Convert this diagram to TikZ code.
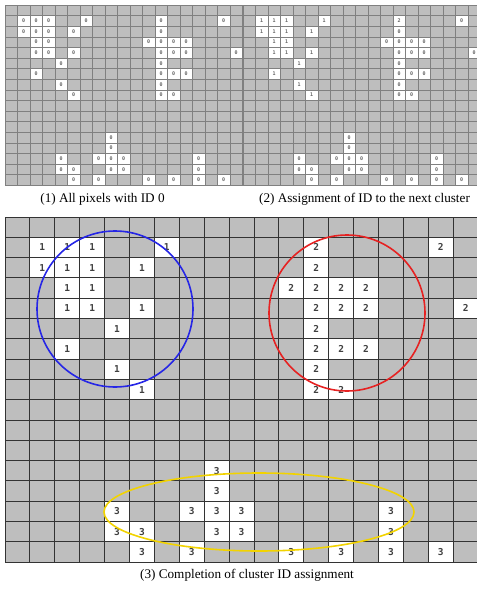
\documentclass[tikz,border=0pt]{standalone}
\usepackage{fontspec}
\setmainfont{Liberation Serif}
\newfontfamily\digitfont{DejaVu Sans Mono}
\definecolor{cellgray}{HTML}{BEBEBE}
\definecolor{ringblue}{HTML}{2626E6}
\definecolor{ringred}{HTML}{E62222}
\definecolor{ringyellow}{HTML}{F2D300}
\tikzset{
  gridS/.style={draw=black!50, line width=0.6pt},
  gridB/.style={draw=black!80, line width=1pt},
  cellS/.style={fill=white, inner sep=0pt, minimum width=12.5pt, minimum height=10.6pt,
    font=\digitfont\bfseries\fontsize{5}{5}\selectfont, text=black!60},
  cellB/.style={fill=white, inner sep=0pt, minimum width=24.9pt, minimum height=20.3pt,
    font=\digitfont\bfseries\fontsize{9.5}{9.5}\selectfont, text=black!75},
  captext/.style={font=\fontsize{13.2}{14}\selectfont, inner sep=0pt},
  ring/.style={line width=1.6pt},
}
\def\ListOne{2/2,2/3,2/4,2/7,3/2,3/3,3/4,3/6,4/3,4/4,5/3,5/4,5/6,6/5,7/3,8/5,9/6}
\def\ListTwoA{2/13}
\def\ListTwoB{3/13,4/12,4/13,4/14,4/15,5/13,5/14,5/15,6/13,7/13,7/14,7/15,8/13,9/13,9/14,2/18,5/19}
\def\ListThree{13/9,14/9,15/5,15/8,15/9,15/10,15/16,16/5,16/6,16/9,16/10,16/16,17/6,17/8,17/12,17/14,17/16,17/18}
\begin{document}
\begin{tikzpicture}[x=1pt,y=-1pt]
\useasboundingbox (0,0) rectangle (477,590);
\clip (0,0) rectangle (477,590);
\fill[white] (0,0) rectangle (477,590);
% ---------- small grid 1 ----------
\fill[cellgray] (5,5) rectangle (242.5,185.2);
\foreach \r/\c in \ListOne
  \node[cellS] (a-\r-\c) at ({5+12.5*(\c-0.5)},{5+10.6*(\r-0.5)}) {0};
\foreach \r/\c in \ListTwoA
  \node[cellS] (a-\r-\c) at ({5+12.5*(\c-0.5)},{5+10.6*(\r-0.5)}) {0};
\foreach \r/\c in \ListTwoB
  \node[cellS] (a-\r-\c) at ({5+12.5*(\c-0.5)},{5+10.6*(\r-0.5)}) {0};
\foreach \r/\c in \ListThree
  \node[cellS] (a-\r-\c) at ({5+12.5*(\c-0.5)},{5+10.6*(\r-0.5)}) {0};
\foreach \i in {0,...,19} \draw[gridS] ({5+12.5*\i},5) -- ({5+12.5*\i},185.2);
\foreach \j in {0,...,17} \draw[gridS] (5,{5+10.6*\j}) -- (242.5,{5+10.6*\j});
% ---------- small grid 2 ----------
\fill[cellgray] (243,5) rectangle (480.5,185.2);
\foreach \r/\c in \ListOne
  \node[cellS] (b-\r-\c) at ({243+12.5*(\c-0.5)},{5+10.6*(\r-0.5)}) {1};
\foreach \r/\c in \ListTwoA
  \node[cellS] (b-\r-\c) at ({243+12.5*(\c-0.5)},{5+10.6*(\r-0.5)}) {2};
\foreach \r/\c in \ListTwoB
  \node[cellS] (b-\r-\c) at ({243+12.5*(\c-0.5)},{5+10.6*(\r-0.5)}) {0};
\foreach \r/\c in \ListThree
  \node[cellS] (b-\r-\c) at ({243+12.5*(\c-0.5)},{5+10.6*(\r-0.5)}) {0};
\foreach \i in {0,...,19} \draw[gridS] ({243+12.5*\i},5) -- ({243+12.5*\i},185.2);
\foreach \j in {0,...,17} \draw[gridS] (243,{5+10.6*\j}) -- (480.5,{5+10.6*\j});
% ---------- captions ----------
\node[captext] (cap1) at (102.5,199) {(1) All pixels with ID 0};
\node[captext] (cap2) at (364.5,199) {(2) Assignment of ID to the next cluster};
% ---------- big grid ----------
\fill[cellgray] (5,217) rectangle (478.1,562.1);
\foreach \r/\c in \ListOne
  \node[cellB] (c-\r-\c) at ({5+24.9*(\c-0.5)},{217+20.3*(\r-0.5)}) {1};
\foreach \r/\c in \ListTwoA
  \node[cellB] (c-\r-\c) at ({5+24.9*(\c-0.5)},{217+20.3*(\r-0.5)}) {2};
\foreach \r/\c in \ListTwoB
  \node[cellB] (c-\r-\c) at ({5+24.9*(\c-0.5)},{217+20.3*(\r-0.5)}) {2};
\foreach \r/\c in \ListThree
  \node[cellB] (c-\r-\c) at ({5+24.9*(\c-0.5)},{217+20.3*(\r-0.5)}) {3};
\foreach \i in {0,...,19} \draw[gridB] ({5+24.9*\i},217) -- ({5+24.9*\i},562.1);
\foreach \j in {0,...,17} \draw[gridB] (5,{217+20.3*\j}) -- (478.1,{217+20.3*\j});
% ---------- cluster rings ----------
\coordinate (ctr1) at (115,309);
\coordinate (ctr2) at (347,313);
\coordinate (ctr3) at (259,512);
\draw[ring, ringblue] (ctr1) circle[radius=78];
\draw[ring, ringred] (ctr2) circle[radius=78];
\draw[ring, ringyellow] (ctr3) ellipse[x radius=155, y radius=39];
\node[captext] (cap3) at (247,575) {(3) Completion of cluster ID assignment};
\end{tikzpicture}
\end{document}
